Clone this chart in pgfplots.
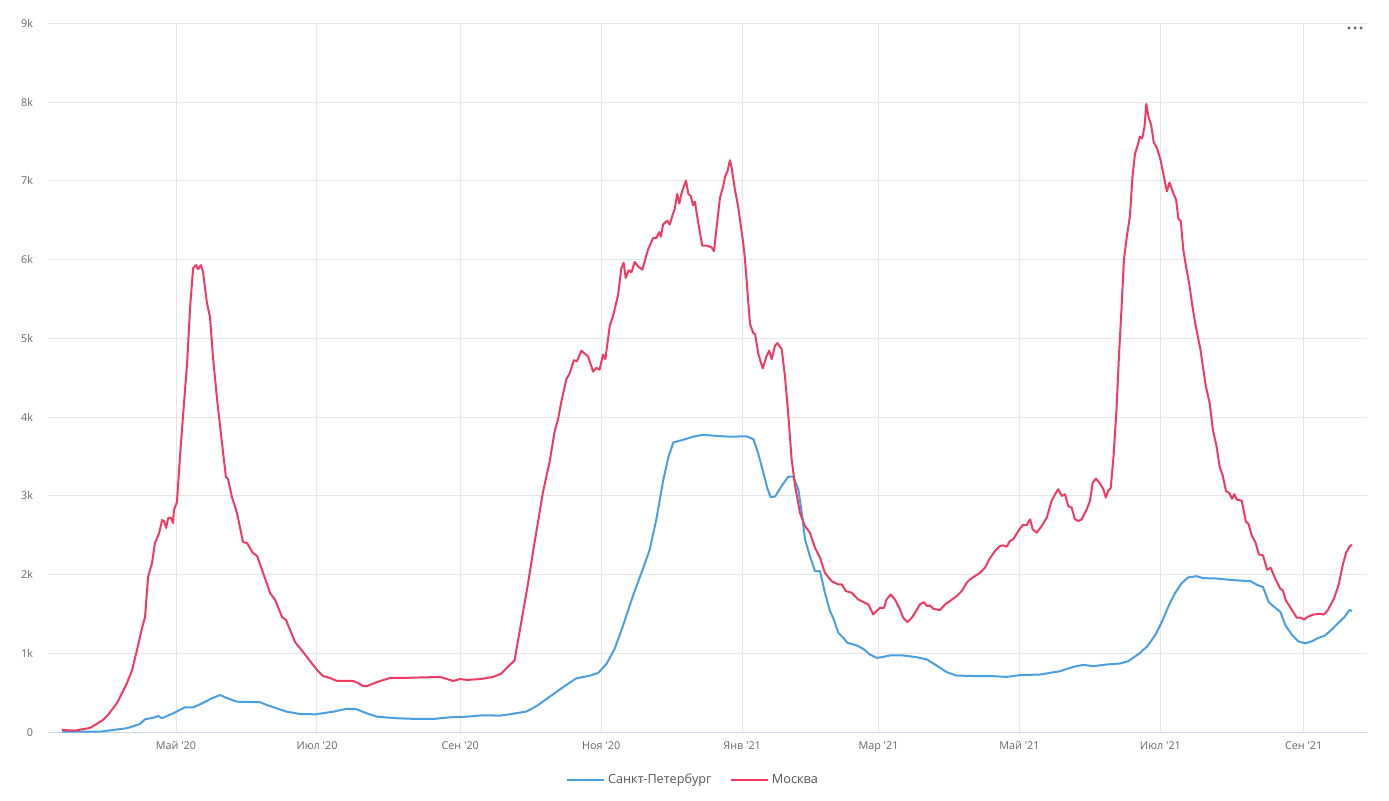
\documentclass[border=0pt]{standalone}
\usepackage{pgfplots}
\pgfplotsset{compat=1.18}
\usepackage{fontspec}
\newfontfamily\hc{Open Sans}
\definecolor{spb}{HTML}{4A9FE0}
\definecolor{msk}{HTML}{F03A62}
\definecolor{gridc}{HTML}{E6E6E6}
\definecolor{axisc}{HTML}{CCD6EB}
\definecolor{tickc}{HTML}{666666}
\definecolor{legc}{HTML}{555555}
\begin{document}
\begin{tikzpicture}[x=1pt,y=1pt]
\path[use as bounding box] (0,0) rectangle (1041.75,600);
\begin{axis}[
  at={(36pt,50.8pt)}, anchor=south west,
  scale only axis, width=989.25pt, height=531.75pt,
  xmin=5.6, xmax=576.4, ymin=0, ymax=9000,
  axis x line*=bottom, axis y line*=left,
  x axis line style={draw=axisc,line width=0.75pt,-},
  y axis line style={draw=none},
  major tick length=0pt,
  xtick={61,122,184,245,306,365,426,487,549},
  xticklabels={{Май '20},{Июл '20},{Сен '20},{Ноя '20},{Янв '21},{Мар '21},{Май '21},{Июл '21},{Сен '21}},
  ytick={0,1000,...,9000},
  yticklabels={0,1k,2k,3k,4k,5k,6k,7k,8k,9k},
  /pgf/number format/assume math mode=true,
  tick label style={font=\hc\fontsize{8.1}{10}\selectfont, text=tickc},
  yticklabel style={inner sep=0pt, anchor=east, xshift=-11pt},
  xticklabel style={inner sep=0pt, anchor=north, yshift=-6.5pt},
  xmajorgrids, ymajorgrids,
  major grid style={draw=gridc, line width=0.75pt},
  legend columns=2,
  legend style={at={(0.4894,-0.0673)}, anchor=center, draw=none, fill=none,
    font=\hc\fontsize{9.5}{11}\selectfont, text=legc,
    /tikz/every even column/.append style={column sep=12pt}},
  legend image code/.code={\draw[#1] (0pt,0pt) -- (27.75pt,0pt);},
  every axis plot/.append style={line width=1.5pt, line join=round},
]
\addplot[spb, no marks] coordinates {
(11.6,8) (28.1,8) (39.7,51) (45.4,105) (47.6,165) (51.2,185) (53.4,207) (54.8,178)
(59.8,241) (64.9,317) (68.5,317) (71.4,355) (76.5,431) (80.1,473) (82.2,444)
(87.3,388) (97.4,381) (100.3,346) (109.0,261) (114.7,232) (121.2,228) (129.1,261)
(134.9,299) (139.2,292) (143.5,241) (147.9,198) (156.5,178) (165.2,169) (172.3,169)
(179.6,190) (186.8,198) (194.0,216) (201.2,211) (205.3,228) (212.5,262) (216.9,330)
(222.7,451) (228.5,573) (234.2,684) (240.0,718) (243.6,752) (247.2,864) (250.8,1058)
(254.4,1349) (258.8,1738) (263.1,2078) (266.0,2320) (268.9,2709) (271.8,3194)
(274.0,3485) (276.2,3679) (280.5,3713) (284.8,3752) (289.1,3776) (294.9,3762)
(300.7,3752) (308.0,3757) (310.9,3718) (313.0,3534) (315.2,3291) (316.9,3097)
(318.3,2987) (320.2,2991) (323.1,3127) (326.0,3246) (328.1,3246) (330.3,3085)
(331.8,2788) (333.2,2449) (335.3,2237) (337.5,2047) (339.7,2047) (341.8,1771)
(344.0,1538) (345.4,1453) (347.6,1263) (349.8,1199) (351.5,1136) (355.6,1102)
(358.4,1059) (361.3,987) (364.2,945) (366.4,953) (370.0,975) (375.7,975) (381.5,953)
(385.9,924) (390.2,847) (394.5,763) (398.8,720) (408.9,712) (414.7,712) (420.5,703)
(426.2,725) (434.9,733) (443.5,775) (449.3,830) (453.6,856) (457.9,839) (463.7,860)
(469.5,873) (473.1,902) (478.2,1008) (481.3,1090) (484.8,1236) (487.7,1407)
(490.5,1601) (493.4,1771) (496.2,1893) (499.0,1966) (502.6,1981) (505.4,1957)
(511.2,1952) (518.2,1932) (526.1,1917) (528.9,1869) (531.4,1844) (533.9,1650)
(536.8,1577) (538.9,1528) (541.1,1358) (543.9,1236) (546.7,1153) (549.6,1129)
(552.4,1153) (555.3,1197) (558.1,1226) (561.0,1299) (563.8,1382) (566.7,1465)
(568.8,1553) (569.9,1538)
};
\addlegendentry{Санкт-Петербург}
\addplot[msk, no marks] coordinates {
(11.6,30) (17,20) (23.8,55) (29.4,156) (31.6,220) (35.5,372) (39.8,626) (42.0,790)
(44.1,1044) (46.3,1324) (47.6,1463) (48.9,1970) (50.6,2148) (51.9,2402) (53.7,2529)
(55.0,2694) (55.8,2681) (56.7,2593) (57.6,2720) (58.9,2720) (59.7,2656) (60.1,2821)
(61.4,2923) (62.7,3494) (64.0,4001) (65.8,4687) (67.1,5397) (68.4,5892) (69.7,5930)
(70.5,5880) (71.8,5930) (72.7,5841) (74.4,5448) (75.7,5270) (77.0,4763) (78.8,4217)
(80.9,3671) (82.6,3240) (83.5,3215) (85.2,2986) (87.4,2783) (90.0,2415) (91.7,2402)
(94.3,2275) (96.1,2237) (98.7,2022) (101.7,1768) (103.9,1679) (106.9,1463)
(108.6,1425) (112.5,1146) (116.0,1019) (118.1,939) (122.0,791) (124.6,714)
(127.6,689) (130.7,651) (137.6,651) (139.8,626) (141.9,587) (143.7,587) (148.0,638)
(153.6,689) (157.9,689) (175.2,702) (178.3,676) (180.9,651) (183.9,676) (186.9,664)
(192.6,676) (198.2,702) (201.6,743) (207.5,913) (210.4,1398) (213.3,1883)
(216.2,2417) (219.8,3048) (222.7,3437) (224.9,3825) (226.3,3970) (227.7,4189)
(229.9,4480) (231.3,4553) (233.2,4723) (234.5,4708) (236.4,4844) (239.3,4771)
(241.5,4577) (242.9,4626) (244.3,4602) (245.8,4796) (246.8,4737) (248.7,5160)
(250.1,5281) (252.3,5548) (253.7,5888) (254.7,5961) (255.6,5767) (256.9,5864)
(258.1,5839) (259.5,5970) (261.0,5912) (262.8,5873) (265.3,6131) (267.5,6276)
(268.9,6276) (270.1,6349) (270.8,6291) (271.8,6446) (273.5,6495) (274.7,6446)
(275.9,6568) (276.8,6640) (277.9,6834) (278.8,6713) (279.7,6834) (280.8,6931)
(281.7,7004) (282.7,6834) (283.7,6810) (284.8,6689) (285.5,6737) (287.0,6470)
(288.7,6179) (290.6,6179) (292.8,6155) (293.8,6106) (294.9,6398) (296.4,6786)
(297.8,6931) (298.6,7053) (299.7,7126) (300.7,7262) (301.4,7174) (302.9,6883)
(304.3,6665) (306.5,6203) (307.2,6008) (309.4,5182) (310.8,5068) (311.6,5055)
(313.0,4800) (314.9,4618) (316.6,4779) (317.7,4843) (318.8,4737) (320.2,4906)
(321.2,4940) (323.1,4864) (324.5,4525) (326.0,4017) (327.4,3466) (328.9,3127)
(331.0,2788) (333.2,2618) (335.3,2534) (337.5,2343) (339.7,2216) (341.8,2025)
(344.7,1919) (347.6,1877) (349.1,1877) (350.9,1792) (353.4,1771) (356.2,1686)
(359.1,1644) (360.6,1623) (362.7,1496) (365.6,1580) (367.4,1580) (368.5,1686)
(370.3,1750) (372.1,1686) (374.0,1580) (375.7,1453) (377.5,1398) (379.4,1453)
(380.8,1517) (382.9,1623) (384.7,1652) (385.9,1602) (387.3,1610) (388.7,1568)
(391.6,1551) (393.8,1623) (395.9,1665) (398.8,1729) (401.0,1792) (403.2,1898)
(404.6,1941) (406.8,1983) (408.9,2025) (411.1,2089) (412.9,2195) (415.4,2301)
(417.6,2364) (419.0,2373) (420.5,2356) (421.9,2428) (423.3,2449) (425.5,2555)
(427.4,2631) (429.1,2631) (430.6,2703) (431.7,2576) (433.5,2534) (435.6,2618)
(437.8,2724) (439.9,2936) (441.4,3021) (442.8,3085) (444.3,3000) (445.7,3021)
(447.1,2873) (448.6,2851) (450.0,2703) (451.5,2682) (452.9,2703) (455.1,2830)
(456.5,2936) (457.7,3169) (459.1,3220) (460.8,3161) (462.3,3085) (463.4,2979)
(464.4,3064) (465.5,3100) (466.7,3500) (468.0,4100) (469.1,4800) (470.2,5400)
(471.2,6000) (472.5,6300) (473.8,6550) (474.9,7051) (476.0,7343) (477.3,7465)
(478.1,7562) (479.1,7538) (480.1,7684) (480.9,7976) (481.9,7805) (483.0,7708)
(484.1,7489) (485.5,7416) (487.0,7270) (488.7,7027) (489.8,6866) (490.9,6978)
(492.4,6857) (493.8,6759) (494.8,6516) (495.8,6492) (496.9,6127) (498.1,5908)
(499.5,5689) (500.9,5397) (502.3,5154) (504.3,4861) (506.6,4399) (508.3,4180)
(509.7,3839) (511.2,3645) (512.6,3377) (514.0,3255) (515.4,3061) (516.8,3037)
(518.0,2963) (519.0,3022) (520.0,2954) (522.2,2939) (524.0,2672) (525.1,2647)
(526.5,2501) (528.2,2404) (529.6,2258) (531.4,2244) (533.2,2063) (534.7,2088)
(536.8,1942) (538.9,1820) (539.9,1806) (541.3,1674) (543.9,1553) (546.0,1455)
(547.7,1455) (549.1,1431) (550.7,1465) (553.1,1494) (556.0,1504) (557.8,1494)
(559.5,1553) (562.1,1698) (564.1,1869) (566.0,2136) (567.4,2282) (568.8,2355)
(569.9,2380)
};
\addlegendentry{Москва}
\end{axis}
\fill[tickc] (1011.75,579) circle (1.3) (1016.25,579) circle (1.3) (1020.75,579) circle (1.3);
\end{tikzpicture}
\end{document}
